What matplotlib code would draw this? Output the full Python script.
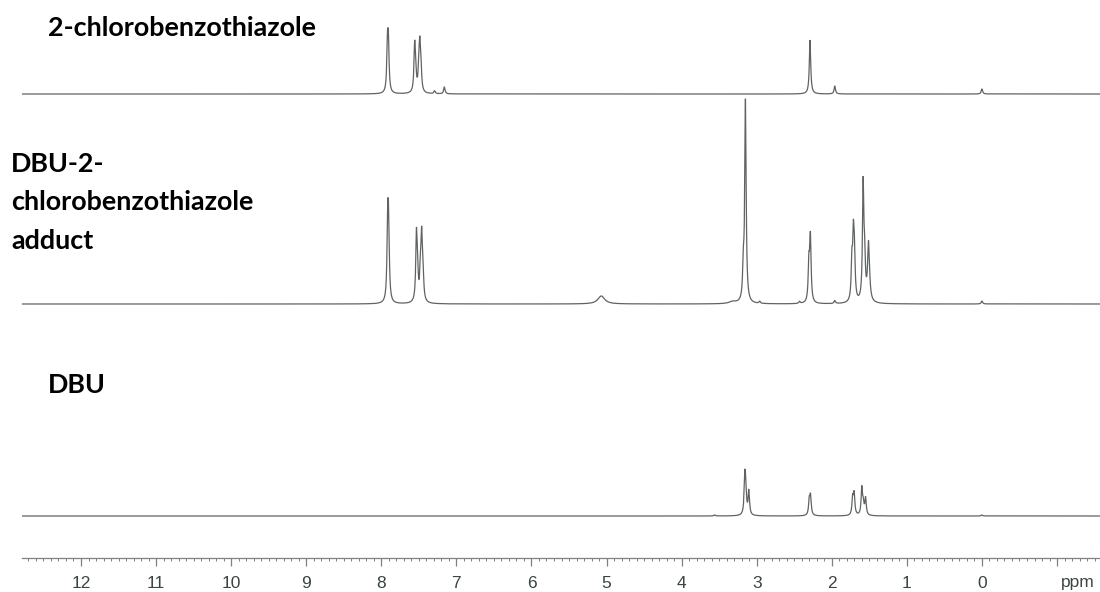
import numpy as np
import matplotlib
matplotlib.use("Agg")
import matplotlib.pyplot as plt
from matplotlib.ticker import MultipleLocator, FixedLocator

# ---- data: peak lists (ppm, intensity) ----
chloro_ppm = [7.918, 7.906, 7.556, 7.543, 7.500, 7.487, 7.472, 7.29, 7.16, 2.29, 1.96, 0.0]
chloro_int = [43, 43, 44, 18, 20, 41, 20, 3, 7, 54, 8, 5]

adduct_ppm = [7.915, 7.903, 7.532, 7.518, 7.478, 7.462, 7.445, 5.07, 3.32, 3.178, 3.150,
              2.96, 2.43, 2.305, 2.285, 1.96, 1.732, 1.712, 1.698, 1.582, 1.562, 1.51, 0.0]
adduct_int = [69, 69, 64, 25, 28, 59, 25, 8, 2, 30, 201,
              2, 2, 37, 64, 3, 38, 59, 40, 116, 35, 59, 3]
adduct_w = [1, 1, 1, 1, 1, 1, 1, 5, 5, 1, 1,
            1, 1, 1, 1, 1, 1, 1, 1, 1, 1, 1.4, 1]

dbu_ppm = [3.56, 3.158, 3.146, 3.105, 2.300, 2.283, 1.722, 1.702, 1.600, 1.580, 1.550, 0.0]
dbu_int = [1, 35, 22, 24, 14.5, 18.7, 17, 21, 27, 10, 17, 1]

labels = ["2-chlorobenzothiazole", "DBU-2-\nchlorobenzothiazole\nadduct", "DBU"]
tick_values = list(range(12, -2, -1))
tick_labels = [str(v) for v in range(12, -1, -1)] + [""]

# ---- figure ----
W, H = 1100, 592
fig = plt.figure(figsize=(W / 100, H / 100), dpi=100)
fig.patch.set_facecolor("white")

ax_left_px, ax_bottom_px = 22, 34
ax = fig.add_axes([ax_left_px / W, ax_bottom_px / H, (W - ax_left_px) / W, (H - ax_bottom_px) / H])

px_per_ppm = 75.08
x12 = 81.0
xmax = 12 + (x12 - ax_left_px) / px_per_ppm
xmin = 12 - (W - x12) / px_per_ppm
ax.set_xlim(xmax, xmin)
ax.set_ylim(0, H - ax_bottom_px)

grid = np.linspace(xmin, xmax, 40000)
hw = 0.011


def spectrum(ppm, inten, widths=None):
    y = np.zeros_like(grid)
    if widths is None:
        widths = [1] * len(ppm)
    for p, a, w in zip(ppm, inten, widths):
        g = hw * w
        y += a * g * g / ((grid - p) ** 2 + g * g)
    return y


baselines = [558 - 94, 558 - 304, 558 - 516]
specs = [spectrum(chloro_ppm, chloro_int),
         spectrum(adduct_ppm, adduct_int, adduct_w),
         spectrum(dbu_ppm, dbu_int)]
line_col = "#5f6462"
for b, s in zip(baselines, specs):
    ax.plot(grid, b + s, color=line_col, lw=0.9, solid_joinstyle="miter")

# axis styling
for sp in ["top", "right", "left"]:
    ax.spines[sp].set_visible(False)
ax.spines["bottom"].set_color("#7c8280")
ax.spines["bottom"].set_linewidth(0.9)
ax.set_yticks([])
ax.xaxis.set_major_locator(FixedLocator(tick_values))
ax.set_xticklabels(tick_labels)
ax.xaxis.set_minor_locator(MultipleLocator(0.1))
ax.tick_params(axis="x", which="major", direction="out", length=6, width=0.9,
               color="#7c8280", pad=7, labelsize=12.5, labelcolor="#3a4540")
ax.tick_params(axis="x", which="minor", direction="out", length=2.5, width=0.7,
               color="#7c8280")
for t in ax.get_xticklabels():
    t.set_fontfamily("Liberation Sans")
ax.text(-1.27, -24, "ppm", ha="center", va="center", fontsize=12.5,
        family="Liberation Sans", color="#3a4540", clip_on=False)

# spectrum labels
font = dict(family="Lato", fontweight="bold", fontsize=19.4, color="black")
fig.text(48 / W, 1 - 36 / H, labels[0], ha="left", va="baseline", **font)
for i, line in enumerate(labels[1].split("\n")):
    fig.text(11 / W, 1 - (172 + i * 38.5) / H, line, ha="left", va="baseline", **font)
fig.text(48 / W, 1 - 393 / H, labels[2], ha="left", va="baseline", **font)

fig.savefig("out.png", dpi=100, facecolor="white")
